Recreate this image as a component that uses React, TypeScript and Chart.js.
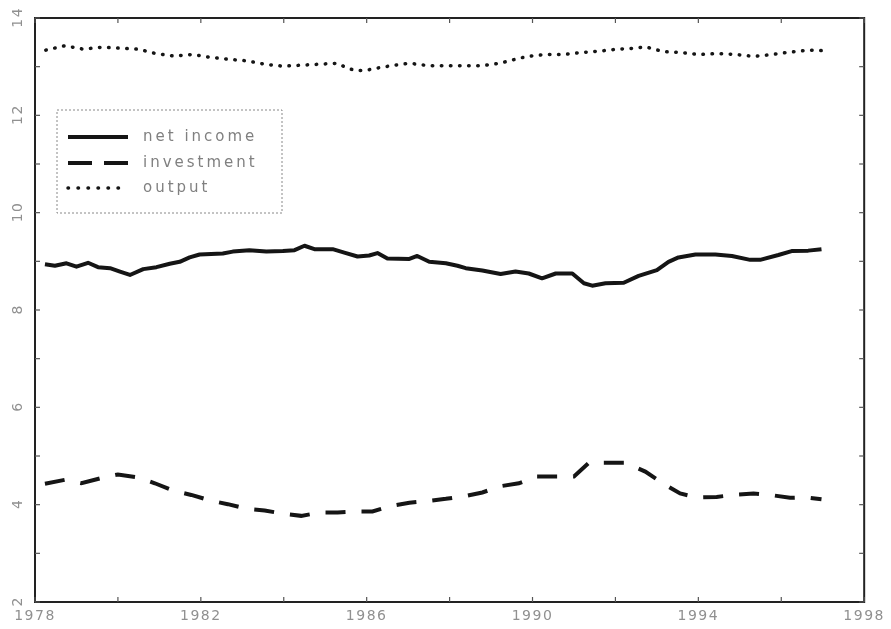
import React, { useEffect, useRef } from "react";
import { Chart, registerables } from "chart.js";

Chart.register(...registerables);

// ---- data ----
const incomeYears = [
  1978.24, 1978.48, 1978.76, 1979.0, 1979.28, 1979.52, 1979.81, 1980.05, 1980.29, 1980.61,
  1980.93, 1981.25, 1981.49, 1981.73, 1981.97, 1982.25, 1982.53, 1982.77, 1983.17, 1983.58,
  1983.98, 1984.26, 1984.5, 1984.74, 1985.18, 1985.46, 1985.78, 1986.06, 1986.26, 1986.5,
  1987.03, 1987.22, 1987.51, 1987.91, 1988.19, 1988.39, 1988.79, 1989.23, 1989.59, 1989.91,
  1990.23, 1990.56, 1990.96, 1991.24, 1991.44, 1991.76, 1992.2, 1992.56, 1993.0, 1993.28,
  1993.52, 1993.93, 1994.41, 1994.81, 1995.25, 1995.49, 1995.93, 1996.25, 1996.65, 1996.97,
];
const incomeValues = [
  8.94, 8.91, 8.96, 8.89, 8.97, 8.88, 8.86, 8.79, 8.72, 8.84,
  8.88, 8.95, 8.99, 9.08, 9.14, 9.15, 9.16, 9.2, 9.23, 9.2,
  9.21, 9.23, 9.32, 9.25, 9.25, 9.18, 9.1, 9.12, 9.17, 9.06,
  9.05, 9.11, 8.99, 8.96, 8.91, 8.86, 8.81, 8.74, 8.79, 8.75,
  8.65, 8.75, 8.75, 8.55, 8.5, 8.55, 8.56, 8.7, 8.82, 8.99,
  9.08, 9.14, 9.14, 9.11, 9.03, 9.03, 9.13, 9.21, 9.22, 9.25,
];

const investYears = [
  1978.24, 1978.72, 1979.12, 1979.61, 1980.0, 1980.49, 1980.89, 1981.37, 1981.77, 1982.25,
  1982.65, 1983.13, 1983.54, 1984.02, 1984.42, 1984.9, 1985.3, 1985.78, 1986.14, 1986.62,
  1987.03, 1987.51, 1987.91, 1988.39, 1988.79, 1989.23, 1989.67, 1990.11, 1990.52, 1991.0,
  1991.36, 1991.84, 1992.24, 1992.72, 1993.12, 1993.56, 1993.96, 1994.44, 1994.85, 1995.33,
  1995.73, 1996.21, 1996.61, 1996.97,
];
const investValues = [
  4.43, 4.51, 4.44, 4.55, 4.62, 4.56, 4.44, 4.28, 4.2, 4.08,
  4.01, 3.91, 3.88, 3.81, 3.77, 3.84, 3.84, 3.86, 3.86, 3.98,
  4.04, 4.08, 4.12, 4.18, 4.25, 4.38, 4.44, 4.58, 4.58, 4.58,
  4.86, 4.86, 4.86, 4.68, 4.45, 4.23, 4.15, 4.16, 4.2, 4.23,
  4.2, 4.14, 4.15, 4.11,
];

const outputYears = [
  1978.26, 1978.72, 1979.16, 1979.61, 1980.05, 1980.49, 1980.91, 1981.35, 1981.8, 1982.24,
  1982.68, 1983.11, 1983.54, 1983.98, 1984.42, 1984.85, 1985.29, 1985.51, 1985.73, 1985.95,
  1986.38, 1986.83, 1987.04, 1987.48, 1988.12, 1988.33, 1988.77, 1989.22, 1989.43, 1989.87,
  1990.32, 1990.74, 1991.18, 1991.62, 1992.06, 1992.5, 1992.72, 1993.15, 1993.59, 1994.02,
  1994.46, 1994.9, 1995.35, 1995.78, 1996.22, 1996.65, 1996.97,
];
const outputValues = [
  13.34, 13.43, 13.36, 13.4, 13.38, 13.36, 13.27, 13.22, 13.25, 13.19,
  13.15, 13.12, 13.05, 13.01, 13.03, 13.05, 13.07, 12.98, 12.92, 12.92,
  12.99, 13.05, 13.07, 13.02, 13.02, 13.02, 13.02, 13.07, 13.12, 13.21,
  13.25, 13.25, 13.29, 13.32, 13.36, 13.38, 13.41, 13.31, 13.29, 13.25,
  13.27, 13.25, 13.21, 13.25, 13.3, 13.34, 13.33,
];

const seriesLabels = ["net income", "investment", "output"];
const xMinorTicks = [1978, 1980, 1982, 1984, 1986, 1988, 1990, 1992, 1994, 1996, 1998];
const yMinorTicks = [2, 3, 4, 5, 6, 7, 8, 9, 10, 11, 12, 13, 14];

const pts = (xs: number[], ys: number[]) => xs.map((x, i) => ({ x, y: ys[i] }));

export default function App() {
  const ref = useRef<HTMLCanvasElement>(null);

  useEffect(() => {
    document.body.style.margin = "0";
    const canvas = ref.current!;
    const INK = "#151515";
    const TEXT = "#909090";

    const framePlugin = {
      id: "frame",
      beforeUpdate(chart: any) {
        (chart.ctx as any).letterSpacing = "1.5px";
      },
      afterDraw(chart: any) {
        const { ctx, chartArea: a, scales } = chart;
        const x = scales.x;
        const y = scales.y;
        ctx.save();

        // y tick labels, rotated (reading bottom to top), from the scale's own ticks
        ctx.font = '14px "DejaVu Sans"';
        ctx.fillStyle = TEXT;
        (ctx as any).letterSpacing = "1.5px";
        ctx.textAlign = "center";
        ctx.textBaseline = "middle";
        for (const t of y.ticks) {
          const py = y.getPixelForValue(t.value);
          ctx.save();
          ctx.translate(18, py);
          ctx.rotate(-Math.PI / 2);
          ctx.fillText(String(t.value), 0.75, 0);
          ctx.restore();
        }

        (ctx as any).letterSpacing = "0px";
        ctx.setLineDash([]);
        ctx.strokeStyle = "#222";
        ctx.lineWidth = 2;
        ctx.strokeRect(a.left, a.top, a.right - a.left, a.bottom - a.top);
        ctx.lineWidth = 1.2;
        ctx.strokeStyle = "#555";
        const seg = (x1: number, y1: number, x2: number, y2: number) => {
          ctx.beginPath();
          ctx.moveTo(x1, y1);
          ctx.lineTo(x2, y2);
          ctx.stroke();
        };
        for (const v of xMinorTicks) {
          const px = x.getPixelForValue(v);
          seg(px, a.bottom, px, a.bottom - 5);
          seg(px, a.top, px, a.top + 5);
        }
        for (const v of yMinorTicks) {
          const py = y.getPixelForValue(v);
          seg(a.left, py, a.left + 5, py);
          seg(a.right, py, a.right - 5, py);
        }

        // legend box
        const bx = a.left + 22;
        const by = a.top + 92;
        const bw = 225;
        const bh = 103;
        ctx.fillStyle = "#fff";
        ctx.fillRect(bx, by, bw, bh);
        ctx.setLineDash([2, 2]);
        ctx.lineWidth = 1;
        ctx.strokeStyle = "#888";
        ctx.strokeRect(bx, by, bw, bh);

        const rows = [27, 53, 78];
        const styles = [
          { dash: [] as number[], width: 4, cap: "butt" },
          { dash: [24, 12], width: 4, cap: "butt" },
          { dash: [0.5, 9.5], width: 3.5, cap: "round" },
        ];
        rows.forEach((dy, i) => {
          const ly = by + dy;
          ctx.setLineDash(styles[i].dash);
          ctx.lineWidth = styles[i].width;
          ctx.lineCap = styles[i].cap as CanvasLineCap;
          ctx.strokeStyle = INK;
          seg(bx + 11, ly, bx + 71, ly);
          ctx.setLineDash([]);
          ctx.lineCap = "butt";
          (ctx as any).letterSpacing = "3px";
          ctx.font = '15px "DejaVu Sans"';
          ctx.fillStyle = "#808080";
          ctx.textAlign = "left";
          ctx.textBaseline = "middle";
          ctx.fillText(seriesLabels[i], bx + 86, ly);
        });
        ctx.restore();
      },
    };

    const chart = new Chart(canvas, {
      type: "scatter",
      data: {
        datasets: [
          {
            label: seriesLabels[0],
            data: pts(incomeYears, incomeValues),
            showLine: true,
            borderColor: INK,
            borderWidth: 4,
            borderJoinStyle: "round",
            pointRadius: 0,
            tension: 0,
          },
          {
            label: seriesLabels[1],
            data: pts(investYears, investValues),
            showLine: true,
            borderColor: INK,
            borderWidth: 4,
            borderDash: [20, 16],
            pointRadius: 0,
            tension: 0,
          },
          {
            label: seriesLabels[2],
            data: pts(outputYears, outputValues),
            showLine: true,
            borderColor: INK,
            borderWidth: 3.5,
            borderDash: [0.5, 8.6],
            borderCapStyle: "round",
            pointRadius: 0,
            tension: 0,
          },
        ],
      },
      options: {
        responsive: false,
        animation: false,
        events: [],
        layout: { padding: { left: 0, top: 18, right: 25, bottom: 0 } },
        plugins: { legend: { display: false }, tooltip: { enabled: false } },
        scales: {
          x: {
            type: "linear",
            min: 1978,
            max: 1998,
            grid: { display: false, drawTicks: false },
            border: { display: false },
            ticks: {
              stepSize: 4,
              maxRotation: 0,
              padding: 6,
              color: TEXT,
              font: { family: "DejaVu Sans", size: 14 },
              callback: (v: any) => String(v),
            },
            afterFit: (s: any) => {
              s.height = 27;
            },
          },
          y: {
            type: "linear",
            min: 2,
            max: 14,
            grid: { display: false, drawTicks: false },
            border: { display: false },
            ticks: {
              stepSize: 2,
              display: false,
            },
            afterFit: (s: any) => {
              s.width = 35;
            },
          },
        },
      } as any,
      plugins: [framePlugin],
    });
    return () => chart.destroy();
  }, []);

  return (
    <div style={{ position: "absolute", left: 0, top: 0, width: 891, height: 629, background: "#fff" }}>
      <canvas ref={ref} width={891} height={629} style={{ width: 891, height: 629, display: "block" }} />
    </div>
  );
}
